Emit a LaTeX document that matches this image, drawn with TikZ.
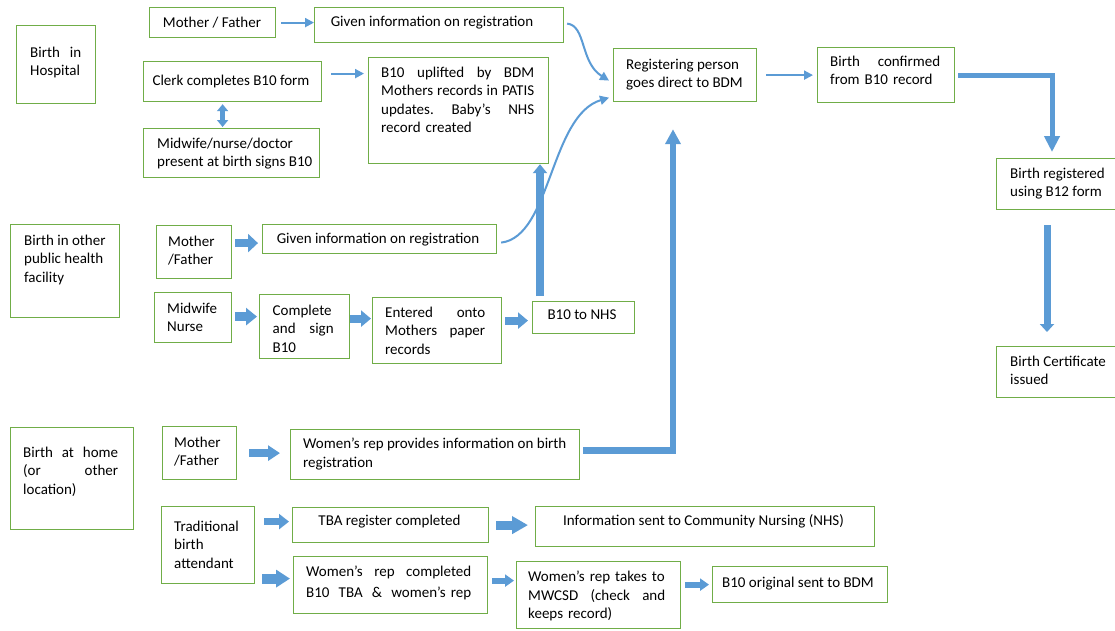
\documentclass[tikz,border=0pt]{standalone}
\usepackage{fontspec}
\setmainfont{Carlito}
\usetikzlibrary{arrows.meta,calc}
\definecolor{bgreen}{HTML}{70AD47}
\definecolor{ablue}{HTML}{5B9BD5}
\newcommand\mkbox[5]{\node[box,anchor=north west,minimum width={#4-#2},minimum height={#5-#3}] (#1) at (#2,#3) {};}
\begin{document}
\begin{tikzpicture}[x=1pt,y=-1pt,
  box/.style={draw=bgreen,line width=1.2pt,inner sep=0pt},
  txt/.style={inner sep=0pt,font=\fontsize{15}{18.3}\selectfont,align=left},
  thinarr/.style={draw=ablue,line width=2pt,-{Triangle[width=9pt,length=9pt]}},
  blockarr/.style n args={3}{draw=ablue,line width=#1,-{Triangle[width=#2,length=#3]}},
  dblarr/.style n args={3}{draw=ablue,line width=#1,{Triangle[width=#2,length=#3]}-{Triangle[width=#2,length=#3]}},
]
\useasboundingbox[fill=white] (0,0) rectangle (1115,630);
% boxes
\mkbox{hosp}{16}{25}{95}{103}
\mkbox{mfa}{149}{7}{275}{37}
\mkbox{gia}{314}{7}{563}{42}
\mkbox{clerk}{143}{61}{321}{101}
\mkbox{mida}{143}{128}{319}{177}
\mkbox{upl}{368}{57}{548}{163}
\mkbox{reg}{613}{48}{756}{101}
\mkbox{conf}{817}{47}{954}{102}
\mkbox{btwelve}{996}{158}{1120}{209}
\mkbox{cert}{996}{346}{1120}{397}
\mkbox{other}{10}{224}{119}{317}
\mkbox{mfb}{156}{225}{231}{278}
\mkbox{gib}{262}{224}{496}{253}
\mkbox{midn}{154}{292}{231}{342}
\mkbox{compl}{259}{294}{349}{358}
\mkbox{enter}{372}{297}{501}{363}
\mkbox{nhs}{532}{301}{634}{333}
\mkbox{home}{10}{427}{133}{529}
\mkbox{mfc}{162}{426}{236}{479}
\mkbox{wrep}{290}{429}{579}{479}
\mkbox{tba}{161}{506}{254}{583}
\mkbox{tbareg}{292}{507}{488}{542}
\mkbox{info}{535}{506}{874}{546}
\mkbox{wrcomp}{293}{556}{487}{613}
\mkbox{wrtakes}{516}{561}{680}{628}
\mkbox{orig}{712}{566}{887}{602}
% texts
\node[txt,anchor=north west,text width=51pt] (hosp-t) at (30,47) {Birth\hfill in\\Hospital};
\node[txt,anchor=north] (mfa-t) at (212,16.5) {Mother / Father};
\node[txt,anchor=north] (gia-t) at (432,16) {Given information on registration};
\node[txt,anchor=north] (clerk-t) at (231,75) {Clerk completes B10 form};
\node[txt,anchor=north west] (mida-t) at (157,138) {Midwife/nurse/doctor\\present at birth signs B10};
\node[txt,anchor=north west,text width=153pt] (upl-t) at (381,67) {B10\hfill uplifted\hfill by\hfill BDM\\Mothers\hfill records\hfill in\hfill PATIS\\updates.\hfill Baby’s\hfill NHS\\record created};
\node[txt,anchor=north west] (reg-t) at (626,59) {Registering person\\goes direct to BDM};
\node[txt,anchor=north west,text width=110pt] (conf-t) at (830,56) {Birth\hfill confirmed\\from B10 record};
\node[txt,anchor=north west] (btwelve-t) at (1010,168) {Birth registered\\using B12 form};
\node[txt,anchor=north west] (cert-t) at (1010,356) {Birth Certificate\\issued};
\node[txt,anchor=north west] (other-t) at (24,235) {Birth in other\\public health\\facility};
\node[txt,anchor=north west] (mfb-t) at (168,236) {Mother\\/Father};
\node[txt,anchor=north] (gib-t) at (378,233) {Given information on registration};
\node[txt,anchor=north west] (midn-t) at (167,303) {Midwife\\Nurse};
\node[txt,anchor=north west,text width=61pt] (compl-t) at (272.5,305) {Complete\\and\hfill sign\\B10};
\node[txt,anchor=north west,text width=100pt] (enter-t) at (385,307) {Entered\hfill onto\\Mothers\hfill paper\\records};
\node[txt,anchor=north] (nhs-t) at (582,310) {B10 to NHS};
\node[txt,anchor=north west,text width=95pt] (home-t) at (23,447) {Birth\hfill at\hfill home\\(or\hfill other\\location)};
\node[txt,anchor=north west] (mfc-t) at (174,437) {Mother\\/Father};
\node[txt,anchor=north west] (wrep-t) at (303,438) {Women’s rep provides information on birth\\registration};
\node[txt,anchor=north west] (tba-t) at (174,521) {Traditional\\birth\\attendant};
\node[txt,anchor=north] (tbareg-t) at (389.5,515) {TBA register completed};
\node[txt,anchor=north] (info-t) at (703.5,514) {Information sent to Community Nursing (NHS)};
\node[txt,anchor=north west,text width=165pt] (wrcomp-t) at (306,566) {Women’s\hfill rep\hfill completed\\[2.7pt]B10\hfill TBA\hfill \&\hfill women’s rep};
\node[txt,anchor=north west,text width=137pt] (wrtakes-t) at (528,571) {Women’s rep takes to\\MWCSD\hfill (check\hfill and\\keeps record)};
\node[txt,anchor=north] (orig-t) at (798,577) {B10 original sent to BDM};
% thin arrows
\draw[thinarr,shorten <=5pt] (mfa.east) -- (mfa.east -| gia.west);
\coordinate (c1) at ($(clerk.east)+(9,-8)$);
\draw[thinarr,shorten >=4pt] (c1) -- (c1 -| upl.west);
\draw[thinarr,shorten <=9pt,shorten >=4pt] (reg.east) -- (reg.east -| conf.west);
% curves
\draw[thinarr] ($(gia.east)+(3,-1.5)$) .. controls +(19,2) and +(-29,-18) .. ($(reg.west)+(-4,5.5)$);
\draw[thinarr] ($(gib.east)+(4,3.5)$) .. controls +(50,-6) and +(-59,18) .. ($(reg.west)+(-4,22.5)$);
% thick connectors
\coordinate (k1) at ($(btwelve.north west)+(56,-6)$);
\draw[blockarr={5pt}{15pt}{16pt},shorten <=3pt] (conf.east) -- (conf.east -| k1) -- (k1);
\draw[blockarr={7pt}{14pt}{8pt}] ($(btwelve.south west)+(51,15)$) -- ($(cert.north west)+(51,-14)$);
\draw[dblarr={5pt}{11pt}{7pt}] ($(clerk.south)+(-10,2)$) -- ($(mida.north)+(-9,-1)$);
\coordinate (c2) at ($(nhs.north west)+(8,-5)$);
\draw[blockarr={8pt}{14pt}{9pt}] (c2) -- (c2 |- upl.south);
\coordinate (c3) at ($(wrep.east)+(3,-4)$);
\coordinate (c4) at ($(reg.south west)+(60,27)$);
\draw[blockarr={6.5pt}{15pt}{15pt}] (c3) -- (c3 -| c4) -- (c4);
% block arrows
\coordinate (a1) at ($(mfb.east)+(3,-9)$);
\draw[blockarr={8.5pt}{18pt}{10pt},shorten >=4pt] (a1) -- (a1 -| gib.west);
\coordinate (a2) at ($(midn.east)+(3,-1)$);
\draw[blockarr={9pt}{17pt}{11pt},shorten >=2pt] (a2) -- (a2 -| compl.west);
\coordinate (a3) at ($(compl.east)+(0,-8)$);
\draw[blockarr={8pt}{16pt}{10pt},shorten >=1pt] (a3) -- (a3 -| enter.west);
\coordinate (a4) at ($(enter.east)+(3,-10)$);
\draw[blockarr={8pt}{16pt}{10pt},shorten >=4pt] (a4) -- (a4 -| nhs.west);
\coordinate (a5) at ($(mfc.east)+(12,0)$);
\draw[blockarr={8pt}{15pt}{12pt},shorten >=10pt] (a5) -- (a5 -| wrep.west);
\coordinate (a6) at ($(tba.east)+(9,-23.5)$);
\draw[blockarr={7pt}{15pt}{10pt},shorten >=3pt] (a6) -- (a6 -| tbareg.west);
\coordinate (a7) at ($(tbareg.east)+(7,0)$);
\draw[blockarr={9pt}{17pt}{16pt},shorten >=7pt] (a7) -- (a7 -| info.west);
\coordinate (a8) at ($(tba.east)+(7,33.5)$);
\draw[blockarr={10pt}{17pt}{14pt},shorten >=3pt] (a8) -- (a8 -| wrcomp.west);
\coordinate (a9) at ($(wrcomp.east)+(4,-4.5)$);
\draw[blockarr={6pt}{12pt}{9pt},shorten >=2pt] (a9) -- (a9 -| wrtakes.west);
\coordinate (a10) at ($(wrtakes.east)+(4,-10.5)$);
\draw[blockarr={6pt}{12pt}{9pt},shorten >=3pt] (a10) -- (a10 -| orig.west);
\end{tikzpicture}
\end{document}
